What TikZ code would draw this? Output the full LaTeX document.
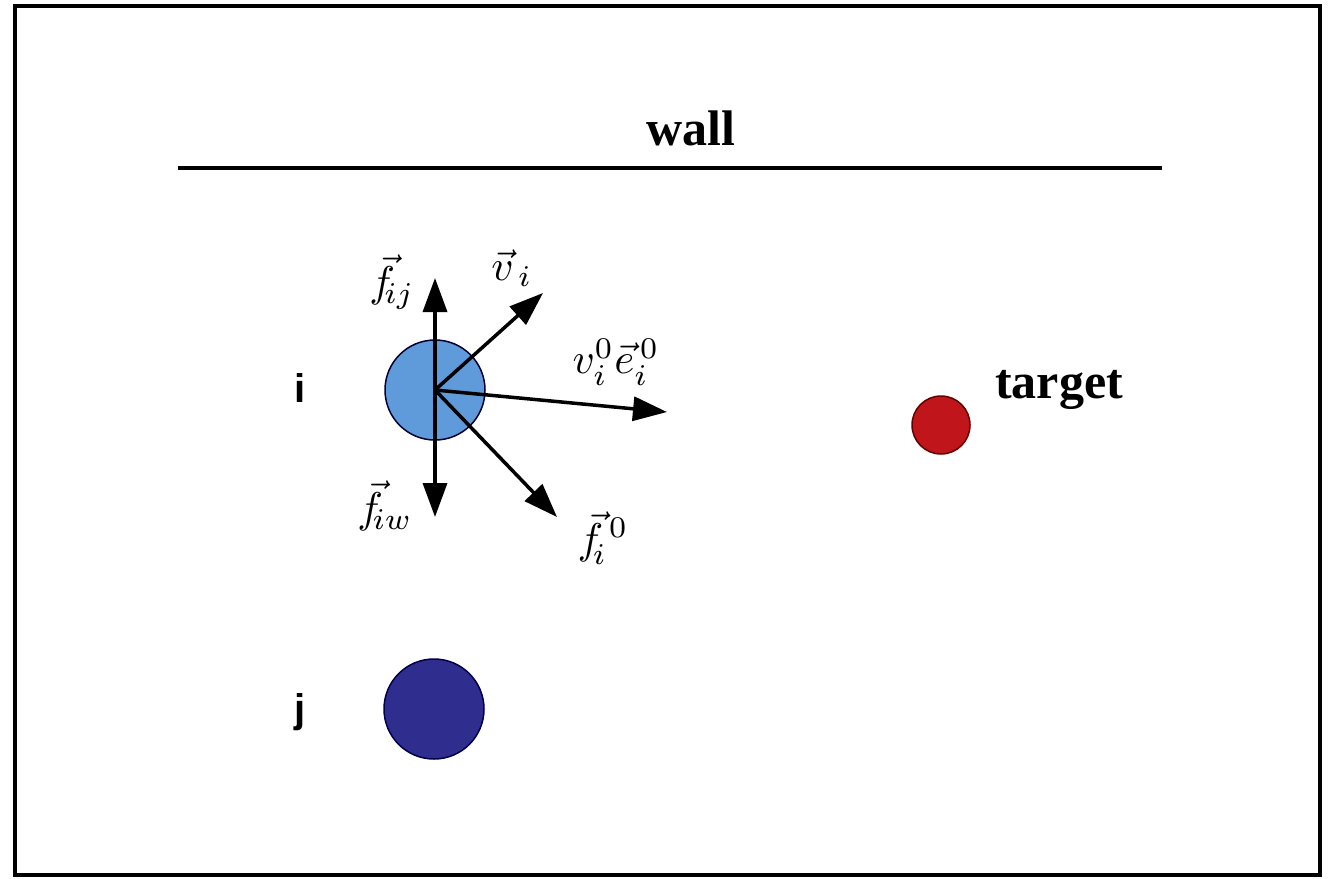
\documentclass[tikz,border=0pt]{standalone}
\usepackage{graphicx}
\usepackage{fontspec}
\setmainfont{Liberation Serif}
\newfontfamily\lsans{Liberation Sans}
\usetikzlibrary{arrows.meta}
\definecolor{ilight}{HTML}{5F9BDA}
\definecolor{jdark}{HTML}{2F2E8E}
\definecolor{tred}{HTML}{C0161B}
\newcommand{\bigmath}[1]{\scalebox{4.3}{$#1$}}
\tikzset{
  vecarrow/.style={line width=3.5pt, -{Triangle[length=34pt,width=24pt]}},
  bigword/.style={font=\fontsize{50}{56}\selectfont\bfseries, inner sep=0pt},
  agent/.style={font=\lsans\fontsize{40}{46}\selectfont\bfseries, inner sep=0pt},
  mlabel/.style={inner sep=0pt},
}
\begin{document}
\begin{tikzpicture}[x=1pt,y=-1pt]
\useasboundingbox (0,0) rectangle (1332,878);
\fill[white] (0,0) rectangle (1332,878);
\draw[line width=4pt] (15,6) rectangle (1320,875);
% wall
\coordinate (wl) at (178,168);
\coordinate (wr) at (1162,168);
\draw[line width=4pt] (wl) -- (wr);
\node[bigword] (wall) at (691,128) {wall};
% agents
\node[circle, minimum size=100pt, inner sep=0pt, fill=ilight, draw=black!80!blue, line width=1.5pt] (ci) at (435,390) {};
\node[circle, minimum size=100pt, inner sep=0pt, fill=jdark, draw=black!70!blue, line width=1.5pt] (cj) at (434,709) {};
\node[circle, minimum size=58pt, inner sep=0pt, fill=tred, draw=black!60!red, line width=1.5pt] (ct) at (941,425) {};
\node[agent] (li) at (300,388) {i};
\node[agent] (lj) at (300,712) {j};
\node[bigword, anchor=west] (lt) at (995,390) {target};
% force / velocity arrows
\coordinate (tup) at (435,278);
\coordinate (tdown) at (435,517);
\coordinate (tv) at (543,293);
\coordinate (te) at (667,412);
\coordinate (tf) at (557,517);
\draw[vecarrow] (ci.center) -- (tup);
\draw[vecarrow] (ci.center) -- (tdown);
\draw[vecarrow] (ci.center) -- (tv);
\draw[vecarrow] (ci.center) -- (te);
\draw[vecarrow] (ci.center) -- (tf);
% labels
\node[mlabel] (lfij) at (392,282) {\bigmath{\vec{f}_{\!ij}}};
\node[mlabel] (lvi) at (512,268) {\bigmath{\vec{v}_{\,i}}};
\node[mlabel] (le) at (616,362) {\bigmath{v_i^0\vec{e}_i^{\,0}}};
\node[mlabel] (lfiw) at (385,506) {\bigmath{\vec{f}_{\!iw}}};
\node[mlabel] (lf0) at (603,538) {\bigmath{\vec{f}_{\!i}^{\,0}}};
\end{tikzpicture}
\end{document}
